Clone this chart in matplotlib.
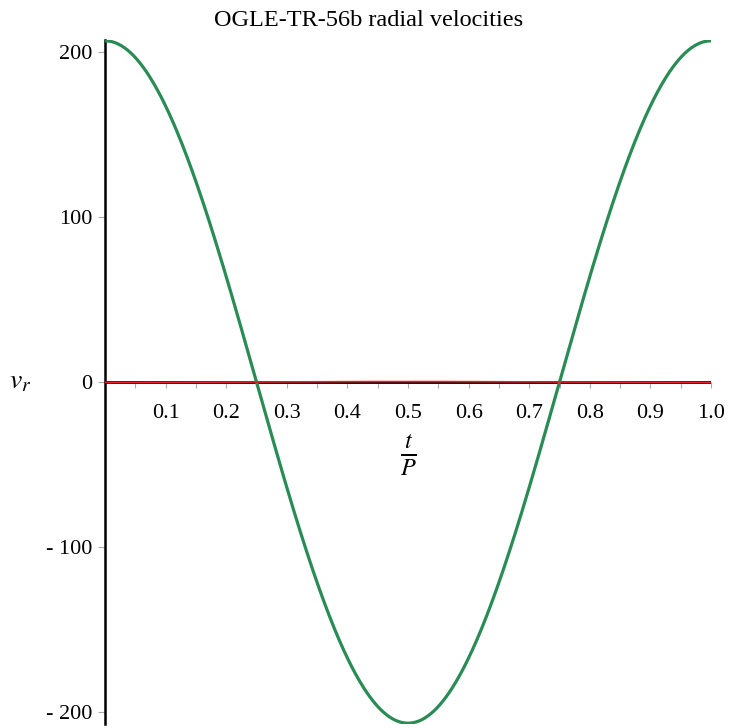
import numpy as np
import matplotlib
matplotlib.use("Agg")
import matplotlib.pyplot as plt

# Data: radial-velocity curves vs. phase t/P
planet_amplitude = 207.0   # km/s, green curve
star_amplitude = 0.27      # km/s, red curve (almost flat)
phase = np.linspace(0.0, 1.0, 600)
planet_v = planet_amplitude * np.cos(2 * np.pi * phase)
star_v = -star_amplitude * np.cos(2 * np.pi * phase)

x_ticks = [0.1, 0.2, 0.3, 0.4, 0.5, 0.6, 0.7, 0.8, 0.9, 1.0]
x_tick_labels = ["0.1", "0.2", "0.3", "0.4", "0.5", "0.6", "0.7", "0.8", "0.9", "1.0"]
x_minor_ticks = [0.05, 0.15, 0.25, 0.35, 0.45, 0.55, 0.65, 0.75, 0.85, 0.95]
y_ticks = [-200, -100, 0, 100, 200]
y_tick_labels = ["- 200", "- 100", "0", "100", "200"]
title = "OGLE-TR-56b radial velocities"

plt.rcParams["font.family"] = ["Liberation Serif", "DejaVu Serif"]
plt.rcParams["mathtext.fontset"] = "stix"

fig = plt.figure(figsize=(7.3, 7.28), dpi=100)
ax = fig.add_axes([105 / 730, 4 / 728, (711 - 105) / 730, (724 - 40) / 728])

ax.plot(phase, planet_v, color="#2a8c55", lw=2.3, solid_capstyle="round", zorder=3)
ax.axhline(0, color="black", lw=2.0, zorder=2)
ax.plot(phase, star_v, color="#e8202a", lw=1.2, zorder=4)

ax.set_xlim(0, 1.0)
ax.set_ylim(-207.5, 207.5)

for s in ["top", "right"]:
    ax.spines[s].set_visible(False)
ax.spines["left"].set_position(("data", 0))
ax.spines["left"].set_linewidth(1.8)
ax.spines["left"].set_color("black")
ax.spines["bottom"].set_position(("data", 0))
ax.spines["bottom"].set_color("none")

ax.set_xticks(x_ticks)
ax.set_xticklabels(x_tick_labels)
ax.set_xticks(x_minor_ticks, minor=True)
ax.set_yticks(y_ticks)
ax.set_yticklabels(y_tick_labels)

ax.tick_params(axis="x", which="both", direction="out", color="#aaaaaa", length=4,
               width=0.8, pad=12, labelsize=16)
ax.tick_params(axis="y", direction="out", color="#aaaaaa", length=5, width=0.8,
               pad=4, labelsize=16)

fig.text(369 / 730, 1 - 20 / 728, title, ha="center", va="center", fontsize=17.5)
fig.text(20 / 730, 1 - 382 / 728, r"$v_r$", ha="center", va="center", fontsize=20)
fig.text(408 / 730, 1 - 455 / 728, r"$\frac{t}{P}$", ha="center", va="center", fontsize=25)

fig.savefig("out.png", dpi=100)
